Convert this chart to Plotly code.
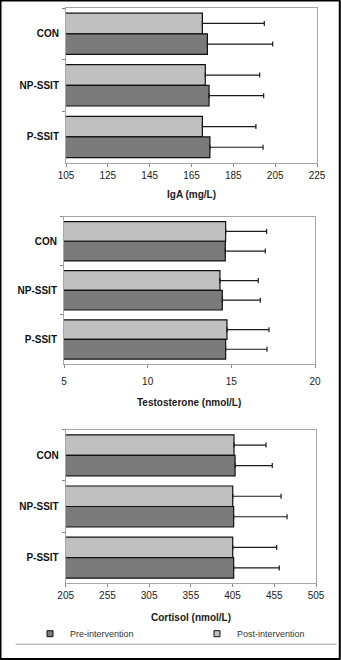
import plotly.graph_objects as go

# Groups and measurements (mean and SD) for each hormone, pre/post intervention
groups = ["CON", "NP-SSIT", "P-SSIT"]

iga_pre = [172.6, 173.4, 173.8]
iga_pre_sd = [31.2, 26.1, 25.4]
iga_post = [170.2, 171.6, 170.2]
iga_post_sd = [29.6, 26.0, 25.6]

testo_pre = [14.64, 14.46, 14.66]
testo_pre_sd = [2.39, 2.27, 2.47]
testo_post = [14.66, 14.32, 14.74]
testo_post_sd = [2.45, 2.29, 2.51]

cort_pre = [408.0, 406.3, 406.3]
cort_pre_sd = [44.6, 64.0, 54.7]
cort_post = [406.7, 405.2, 405.2]
cort_post_sd = [38.4, 57.9, 52.7]

x_titles = ["IgA (mg/L)", "Testosterone (nmol/L)", "Cortisol (nmol/L)"]
x_ranges = [[105, 225], [5, 20], [205, 505]]
x_ticks = [[105, 125, 145, 165, 185, 205, 225], [5, 10, 15, 20],
           [205, 255, 305, 355, 405, 455, 505]]

PRE_COLOR = "#7b7b7b"
POST_COLOR = "#c0c0c0"
FRAME = "#a6a6a6"
FONT = "Liberation Sans, Arial, sans-serif"

W, H = 341, 660
# panel boxes in pixels: (left, right, top, bottom)
boxes = [(66, 317, 8, 162.7), (64, 315, 216.7, 364), (65.7, 316, 429.7, 583.3)]
title_y = [194.3, 402.3, 617.3]
label_standoff = [0, 5, 0]

panels = [
    (iga_pre, iga_pre_sd, iga_post, iga_post_sd),
    (testo_pre, testo_pre_sd, testo_post, testo_post_sd),
    (cort_pre, cort_pre_sd, cort_post, cort_post_sd),
]

fig = go.Figure()


def err(sd):
    return dict(type="data", symmetric=False, array=sd, arrayminus=[0] * len(sd),
                color="#1a1a1a", thickness=1.2, width=2.5)


for i, (pre, pre_sd, post, post_sd) in enumerate(panels):
    sfx = "" if i == 0 else str(i + 1)
    # Post-intervention listed first so it sits above Pre within each group
    fig.add_trace(go.Bar(
        y=groups, x=post, orientation="h", name="Post-intervention",
        marker=dict(color=POST_COLOR, line=dict(color="#111111", width=1.2)),
        error_x=err(post_sd), showlegend=False,
        xaxis="x" + sfx, yaxis="y" + sfx))
    fig.add_trace(go.Bar(
        y=groups, x=pre, orientation="h", name="Pre-intervention",
        marker=dict(color=PRE_COLOR, line=dict(color="#111111", width=1.2)),
        error_x=err(pre_sd), showlegend=False,
        xaxis="x" + sfx, yaxis="y" + sfx))

# Legend entries with small square swatches, one legend box each
for name, col, leg in [("Pre-intervention", PRE_COLOR, "legend"),
                       ("Post-intervention", POST_COLOR, "legend2")]:
    fig.add_trace(go.Scatter(
        x=[None], y=[None], mode="markers", name=name, legend=leg,
        marker=dict(symbol="square", size=6, color=col, line=dict(color="#111111", width=1)),
        xaxis="x3", yaxis="y3"))

legend_common = dict(y=1 - 633.7 / H, yanchor="middle", xanchor="left",
                     font=dict(size=9, color="#333333"), itemsizing="trace",
                     bgcolor="rgba(0,0,0,0)", borderwidth=0)

layout = dict(
    width=W, height=H, template="none",
    margin=dict(l=0, r=0, t=0, b=0, pad=0),
    paper_bgcolor="white", plot_bgcolor="white",
    barmode="group", bargap=0.2, bargroupgap=0,
    font=dict(family=FONT, size=10, color="#1a1a1a"),
    showlegend=True,
    legend=dict(x=30 / W, **legend_common),
    legend2=dict(x=197 / W, **legend_common),
)

annotations = []
for i, (l, r, t, b) in enumerate(boxes):
    sfx = "" if i == 0 else str(i + 1)
    layout["xaxis" + sfx] = dict(
        domain=[l / W, r / W], anchor="y" + sfx, range=x_ranges[i],
        tickvals=x_ticks[i], ticks="outside", ticklen=3, tickcolor="#888888",
        showline=True, linecolor=FRAME, linewidth=1, mirror=True,
        showgrid=False, zeroline=False, automargin=False,
        tickfont=dict(size=10, color="#222222"),
        ticklabelstandoff=label_standoff[i],
    )
    layout["yaxis" + sfx] = dict(
        domain=[1 - b / H, 1 - t / H], anchor="x" + sfx,
        type="category", autorange="reversed",
        ticks="outside", ticklen=3, tickcolor="#888888", tickson="boundaries",
        showline=True, linecolor=FRAME, linewidth=1, mirror=True,
        showgrid=False, zeroline=False, automargin=False,
        tickfont=dict(size=10, color="#111111", weight="bold"),
        ticklabelstandoff=4,
    )
    annotations.append(dict(
        text="<b>%s</b>" % x_titles[i], xref="paper", yref="paper",
        x=(l + r) / 2 / W, y=1 - title_y[i] / H, xanchor="center", yanchor="middle",
        showarrow=False, font=dict(size=10, color="#1a1a1a")))

layout["annotations"] = annotations
layout["shapes"] = [
    # rule under the legend
    dict(type="line", xref="paper", yref="paper", x0=15.7 / W, x1=336.7 / W,
         y0=1 - 644.3 / H, y1=1 - 644.3 / H, line=dict(color="#c0c0c0", width=1.5)),
    # outer frame
    dict(type="rect", xref="paper", yref="paper", x0=0.5 / W, x1=339.8 / W,
         y0=1 - 659 / H, y1=1 - 0.5 / H, line=dict(color="#000000", width=2)),
]

fig.update_layout(**layout)
fig.write_html("out.html")
